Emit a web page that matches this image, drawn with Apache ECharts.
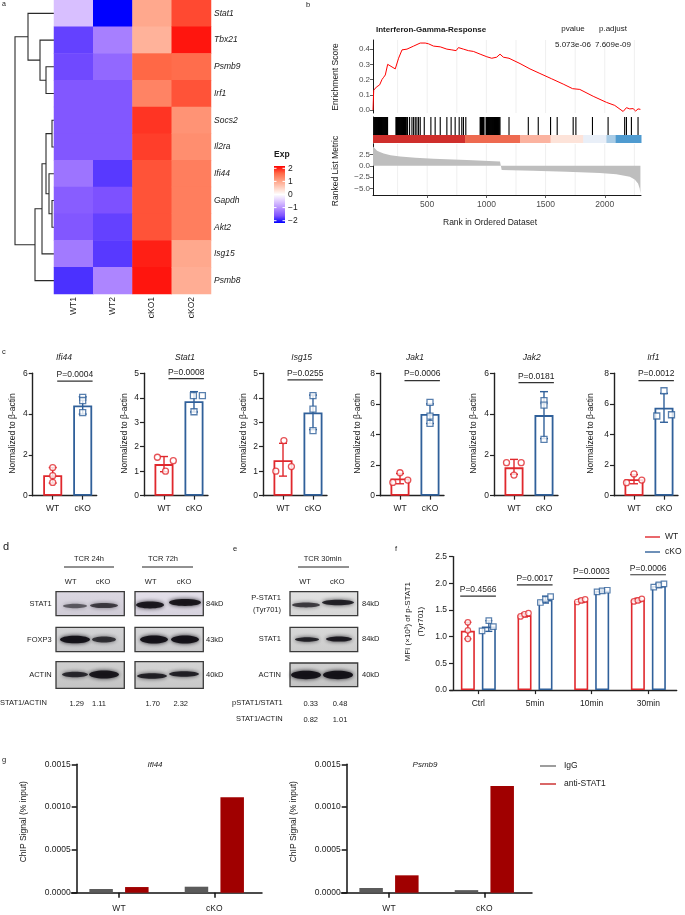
<!DOCTYPE html>
<html><head><meta charset="utf-8">
<script src="https://cdn.jsdelivr.net/npm/echarts@6/dist/echarts.min.js"></script>
<style>html,body{margin:0;padding:0;background:#fff}#c{width:685px;height:915px}</style>
</head><body><div id="c"></div>
<script>
// ================= DATA =================
// Panel a – heatmap (row z-scores)
const heatGenes = ['Stat1','Tbx21','Psmb9','Irf1','Socs2','Il2ra','Ifi44','Gapdh','Akt2','Isg15','Psmb8'];
const heatSamples = ['WT1','WT2','cKO1','cKO2'];
const heatWT1  = [-0.55,-1.6,-1.55,-1.45,-1.45,-1.45,-1.2,-1.4,-1.45,-1.15,-1.7];
const heatWT2  = [-2.0,-1.1,-1.3,-1.45,-1.45,-1.45,-1.65,-1.5,-1.6,-1.65,-1.05];
const heatCKO1 = [0.9,0.8,1.5,1.25,1.75,1.7,1.6,1.6,1.6,1.85,1.9];
const heatCKO2 = [1.65,1.9,1.45,1.6,1.1,1.15,1.3,1.3,1.3,0.9,0.85];
const heatLegendTicks = [2,1,0,-1,-2];
// dendrogram merges (hclust style: negative = leaf row index+1, positive = merge number)
const dendroLeft   = [-3,-2,-1,-5,-8,-7,4,7,8,3];
const dendroRight  = [-4, 1, 2,-6,-9, 5,6,-10,-11,9];
const dendroHeight = [8,14,26,2,2,5,8,12,19,39];

// Panel b – GSEA
const esRank  = [42,48,70,98,118,132,146,166,230,258,287,329,385,441,483,511,553,610,666,708,744,764,806,848,890,947,1003,1045,1087,1115,1143,1191,1284,1368,1452,1551,1649,1728,1789,1902,2014,2084,2155,2183,2211,2239,2261,2281,2301];
const esScore = [0,0.13,0.15,0.165,0.2,0.215,0.23,0.30,0.27,0.34,0.395,0.40,0.42,0.44,0.44,0.435,0.42,0.415,0.40,0.395,0.39,0.41,0.40,0.39,0.385,0.367,0.35,0.34,0.347,0.367,0.347,0.34,0.305,0.27,0.24,0.205,0.17,0.14,0.135,0.09,0.05,0.03,-0.01,0.015,0.007,0.009,-0.007,0.007,0.004];
const hitRanks = [53,57,61,65,69,73,77,81,85,89,93,97,101,105,109,113,117,121,125,129,133,137,141,145,149,153,157,161,165,
  236,240,244,248,252,256,260,264,268,272,276,280,284,288,292,296,300,304,308,312,316,320,323,
  334,351,371,385,399,413,427,441,475,531,567,610,666,702,736,770,792,806,826,
  947,951,955,959,963,967,971,975,980,
  997,1001,1005,1009,1013,1017,1021,1025,1029,1033,1037,1041,1045,1049,1053,1057,1061,1065,1069,1073,1077,1081,1085,1089,1093,1097,1101,1105,1109,1115,
  1191,1354,1438,1542,1598,1733,1756,1896,2028,2168,2183,2225,2281];
const metricRank = [42,55,76,100,132,190,272,400,553,834,1115,1128,1129,1396,1677,1958,2098,2211,2253,2281,2295,2301];
const metricVal  = [4.2,3.8,3.3,3.0,2.7,2.3,2.0,1.75,1.55,1.25,0.95,0.95,-0.95,-1.1,-1.3,-1.6,-1.85,-2.4,-3.0,-3.9,-5.0,-6.0];
const colorBinStart = [42,820,1284,1542,1818,2014,2092];
const colorBinEnd   = [820,1284,1542,1818,2014,2092,2306];
const colorBinColor = ['#cf2f2c','#ee6a50','#fbb3a0','#fde3d9','#e9eff8','#a9cce6','#4f9bd0'];
const gseaGridRanks = [250,500,750,1000,1250,1500,1750,2000,2250];
const gseaXTicks = [500,1000,1500,2000];
const esTicks = [0,0.1,0.2,0.3,0.4];
const metricTicks = [-5,-2.5,0,2.5];

// Panel c – qPCR
const cGenes = ['Ifi44','Stat1','Isg15','Jak1','Jak2','Irf1'];
const cYMax = [6,5,5,8,6,8];
const cYInterval = [2,1,1,2,2,2];
const cWTMean = [1.0,1.29,1.45,1.12,1.39,1.08];
const cKOMean = [4.42,3.86,3.40,5.34,3.95,5.75];
const cWTErr = [[0.62,1.38],[0.98,1.6],[0.8,2.14],[0.78,1.45],[1.05,1.78],[0.78,1.38]];
const cKOErr = [[4.0,4.85],[3.42,4.25],[2.7,4.11],[4.72,6.0],[2.8,5.1],[4.8,6.69]];
const cWTPts = [
  [[0,1.38],[0,0.98],[0,0.65]],
  [[-0.22,1.57],[0.05,1.0],[0.31,1.43]],
  [[0.03,2.25],[-0.24,1.0],[0.28,1.19]],
  [[0,1.50],[-0.24,0.87],[0.26,1.02]],
  [[-0.25,1.62],[0.24,1.62],[0,1.01]],
  [[0,1.42],[-0.25,0.85],[0.26,1.02]]];
const cKOPts = [
  [[1,4.82],[1,4.66],[1,4.07]],
  [[0.98,4.09],[1.28,4.09],[1,3.43]],
  [[1,4.09],[1,3.54],[1,2.66]],
  [[1,6.1],[1,5.2],[1,4.73]],
  [[1,4.66],[1,4.44],[1,2.76]],
  [[1,6.86],[0.76,5.21],[1.25,5.29]]];
const cPLabel = ['P=0.0004','P=0.0008','P=0.0255','P=0.0006','P=0.0181','P=0.0012'];
const cPLevel = [5.62,4.78,4.73,7.52,5.54,7.52];
const cGroups = ['WT','cKO'];

// Panel f – flow MFI
const fCats = ['Ctrl','5min','10min','30min'];
const fWTMean = [1.11,1.40,1.67,1.69];
const fKOMean = [1.19,1.69,1.86,1.95];
const fWTErr = [[0.96,1.27],[1.37,1.44],[1.64,1.71],[1.65,1.72]];
const fKOErr = [[1.10,1.30],[1.63,1.76],[1.83,1.88],[1.92,2.0]];
const fWTPts = [[[0,1.27],[0,1.12],[0,0.96]],[[-0.07,1.38],[0,1.42],[0.07,1.44]],[[-0.07,1.65],[0,1.68],[0.07,1.70]],[[-0.07,1.66],[0,1.68],[0.07,1.71]]];
const fKOPts = [[[-0.12,1.11],[0,1.30],[0.08,1.19]],[[-0.09,1.64],[0,1.70],[0.09,1.75]],[[-0.09,1.84],[0,1.86],[0.09,1.87]],[[-0.09,1.93],[0,1.97],[0.09,1.99]]];
const fPLabel = ['P=0.4566','P=0.0017','P=0.0003','P=0.0006'];
const fPLevel = [1.76,1.97,2.09,2.16];

// Panel g – ChIP
const gCats = ['WT','cKO'];
const gIfi44IgG  = [0.000043,0.00007];
const gIfi44Anti = [0.000066,0.001114];
const gPsmb9IgG  = [0.000055,0.00003];
const gPsmb9Anti = [0.000203,0.001247];

// ================= STYLE / LAYOUT =================
const FONT = '"Liberation Sans", Arial, Helvetica, sans-serif';
const RED = '#e0282d', BLUE = '#30609a', INK = '#1a1a1a';
const heatColors = ['#0000ff','#7d51ff','#b28bff','#dcc5ff','#ffffff','#ffcfbf','#ff9e81','#ff6846','#ff0000'];

const option = {animation:false, backgroundColor:'#fff', textStyle:{fontFamily:FONT},
  grid:[], xAxis:[], yAxis:[], series:[], visualMap:[], graphic:{elements:[]}};
const G = option.graphic.elements;
function addGrid(g){ option.grid.push(Object.assign({show:false, containLabel:false, outerBoundsMode:'none'}, g)); return option.grid.length-1; }
function addX(a){ option.xAxis.push(a); return option.xAxis.length-1; }
function addY(a){ option.yAxis.push(a); return option.yAxis.length-1; }
function txt(x,y,text,o){ o=o||{}; const al=o.align||'center', va=o.va||'middle';
  return {type:'text', x:x, y:y, rotation:o.rot||0, silent:true, z:50,
    style:{text:text, fill:o.color||INK, fontSize:o.size||8.5, fontFamily:FONT, fontStyle:o.italic?'italic':'normal',
      fontWeight:o.bold?'bold':'normal', align:al, verticalAlign:va, textAlign:al, textVerticalAlign:va}}; }
function hline(x1,y1,x2,y2,color,w){ return {type:'line', silent:true, z:50, shape:{x1:x1,y1:y1,x2:x2,y2:y2}, style:{stroke:color, lineWidth:w}}; }
const hidden = {show:false};

// ================= PANEL a =================
{
  const gd = addGrid({left:14, top:0, width:40, height:294});
  const xi = addX({gridIndex:gd, type:'value', min:0, max:40, inverse:true, show:false});
  const yi = addY({gridIndex:gd, type:'value', min:-0.5, max:10.5, inverse:true, show:false});
  const nodePos=[], nodeH=[];
  const pos = id => id<0 ? -id-1 : nodePos[id-1];
  const hgt = id => id<0 ? 0 : nodeH[id-1];
  const segs = [];
  for (let k=0;k<dendroHeight.length;k++){
    const a=dendroLeft[k], b=dendroRight[k], h=dendroHeight[k];
    const ya=pos(a), yb=pos(b);
    segs.push({coords:[[hgt(a),ya],[h,ya],[h,yb],[hgt(b),yb]]});
    nodePos.push((ya+yb)/2); nodeH.push(h);
  }
  option.series.push({type:'lines', coordinateSystem:'cartesian2d', xAxisIndex:xi, yAxisIndex:yi, polyline:true, silent:true,
    lineStyle:{color:'#2a2a2a', width:1.1, opacity:1}, data:segs});

  const gh = addGrid({left:54, top:0, width:157, height:294});
  const hx = addX({gridIndex:gh, type:'category', data:heatSamples, axisLine:{show:false}, axisTick:{show:false}, splitLine:{show:false},
    axisLabel:{rotate:90, margin:3, fontSize:8.5, color:INK, fontFamily:FONT}});
  const hy = addY({gridIndex:gh, type:'category', data:heatGenes, inverse:true, position:'right', axisLine:{show:false}, axisTick:{show:false}, splitLine:{show:false},
    axisLabel:{fontStyle:'italic', fontSize:8.5, margin:3, color:INK, fontFamily:FONT}});
  const cols = [heatWT1, heatWT2, heatCKO1, heatCKO2];
  const hd = [];
  cols.forEach((col,c)=>col.forEach((v,r)=>hd.push([c,r,v])));
  option.series.push({type:'heatmap', xAxisIndex:hx, yAxisIndex:hy, data:hd, silent:true, itemStyle:{borderWidth:0}});
  option.visualMap.push({type:'continuous', show:false, min:-2, max:2, dimension:2, seriesIndex:option.series.length-1, inRange:{color:heatColors}});

  // color legend
  const lx=274, ly=166, lw=11, lh=57;
  const stops = heatColors.slice().reverse().map((c,i)=>({offset:i/(heatColors.length-1), color:c}));
  G.push(txt(274,155,'Exp',{bold:true, size:8.5, align:'left'}));
  G.push({type:'rect', silent:true, z:40, shape:{x:lx,y:ly,width:lw,height:lh},
    style:{fill:{type:'linear', x:0,y:0,x2:0,y2:1, colorStops:stops}}});
  heatLegendTicks.forEach(v=>{
    const yy = ly+2.3 + (2-v)/4*(lh-4.6);
    G.push(hline(lx,yy,lx+2.5,yy,'#fff',1)); G.push(hline(lx+lw-2.5,yy,lx+lw,yy,'#fff',1));
    G.push(txt(lx+lw+3, yy, v<0?('\u2212'+Math.abs(v)):String(v), {align:'left', size:8.5}));
  });
}

// ================= PANEL b =================
{
  const L=373, W=268, xmin=42, xmax=2306;
  const gT = addGrid({left:L, top:40, width:W, height:73});
  const gR = addGrid({left:L, top:117, width:W, height:18});
  const gC = addGrid({left:L, top:135, width:W, height:8});
  const gB = addGrid({left:L, top:144, width:W, height:51});
  const axLine = {show:true, onZero:false, lineStyle:{color:'#000', width:0.9}};
  const lab = {fontSize:8, color:'#4d4d4d', fontFamily:FONT, margin:3};
  const xT = addX({gridIndex:gT, type:'value', min:xmin, max:xmax, show:false});
  const yT = addY({gridIndex:gT, type:'value', min:-0.02, max:0.46, axisLine:axLine, splitLine:hidden,
    axisTick:{show:true, length:3, customValues:esTicks, lineStyle:{color:'#333', width:0.8}},
    axisLabel:Object.assign({customValues:esTicks, formatter:v=>v.toFixed(1)}, lab)});
  const xR = addX({gridIndex:gR, type:'value', min:xmin, max:xmax, show:false});
  const yR = addY({gridIndex:gR, type:'value', min:0, max:1, axisLine:axLine, axisTick:hidden, axisLabel:hidden, splitLine:hidden});
  const xC = addX({gridIndex:gC, type:'value', min:xmin, max:xmax, show:false});
  const yC = addY({gridIndex:gC, type:'value', min:0, max:1, axisLine:axLine, axisTick:hidden, axisLabel:hidden, splitLine:hidden});
  const xB = addX({gridIndex:gB, type:'value', min:xmin, max:xmax, axisLine:axLine, splitLine:hidden,
    axisTick:{show:true, length:3, customValues:gseaXTicks, lineStyle:{color:'#333', width:0.8}},
    axisLabel:Object.assign({customValues:gseaXTicks, formatter:v=>String(Math.round(v))}, lab, {margin:5, fontSize:8.5})});
  const yB = addY({gridIndex:gB, type:'value', min:-6.4, max:4.76, axisLine:axLine, splitLine:hidden,
    axisTick:{show:true, length:3, customValues:metricTicks, lineStyle:{color:'#333', width:0.8}},
    axisLabel:Object.assign({customValues:metricTicks, formatter:v=>v<0?('\u2212'+Math.abs(v).toFixed(1)):v.toFixed(1)}, lab)});

  const gridLines = (xi, yi, y0, y1) => ({type:'custom', xAxisIndex:xi, yAxisIndex:yi, silent:true, z:0, clip:false,
    data:gseaGridRanks.map(v=>[v]),
    renderItem:(p,api)=>{const a=api.coord([api.value(0),y0]), b=api.coord([api.value(0),y1]);
      return {type:'line', shape:{x1:a[0],y1:a[1],x2:b[0],y2:b[1]}, style:{stroke:'#ebebeb', lineWidth:0.8}};}});
  option.series.push(gridLines(xT,yT,-0.02,0.46));
  option.series.push(gridLines(xB,yB,-6.4,4.76));
  option.series.push({type:'line', xAxisIndex:xT, yAxisIndex:yT, data:esRank.map((r,i)=>[r,esScore[i]]), showSymbol:false, symbol:'none',
    lineStyle:{color:'#ff0000', width:1}, silent:true, z:3});
  option.series.push({type:'custom', xAxisIndex:xR, yAxisIndex:yR, silent:true, z:3, data:hitRanks.map(v=>[v]),
    renderItem:(p,api)=>{const a=api.coord([api.value(0),0]), b=api.coord([api.value(0),1]);
      return {type:'line', shape:{x1:a[0],y1:a[1],x2:b[0],y2:b[1]}, style:{stroke:'#000', lineWidth:1.1}};}});
  option.series.push({type:'custom', xAxisIndex:xC, yAxisIndex:yC, silent:true, z:3,
    data:colorBinStart.map((s,i)=>[s,colorBinEnd[i],i]),
    renderItem:(p,api)=>{const a=api.coord([api.value(0),1]), b=api.coord([api.value(1),0]);
      return {type:'rect', shape:{x:a[0],y:a[1],width:b[0]-a[0]+0.5,height:b[1]-a[1]}, style:{fill:colorBinColor[api.value(2)]}};}});
  option.series.push({type:'line', xAxisIndex:xB, yAxisIndex:yB, data:metricRank.map((r,i)=>[r,metricVal[i]]), showSymbol:false, symbol:'none',
    lineStyle:{width:0, color:'#bebebe'}, areaStyle:{color:'#bebebe', opacity:1}, silent:true, z:3});

  G.push(txt(306,5,'b',{size:7.5, align:'left'}));
  G.push(txt(376,30,'Interferon-Gamma-Response',{bold:true, size:8, align:'left'}));
  G.push(txt(573,28.5,'pvalue',{size:8})); G.push(txt(613,28.5,'p.adjust',{size:8}));
  G.push(txt(573,45,'5.073e-06',{size:8})); G.push(txt(613,45,'7.609e-09',{size:8}));
  G.push(txt(336,77,'Enrichment Score',{rot:Math.PI/2, size:8.5, color:'#222'}));
  G.push(txt(336,171,'Ranked List Metric',{rot:Math.PI/2, size:8.5, color:'#222'}));
  G.push(txt(490,223,'Rank in Ordered Dataset',{size:8.5, color:'#222'}));
}

// ================= PANEL c =================
const axStyle = {show:true, onZero:false, lineStyle:{color:'#222', width:1.4}};
function errSeries(xi, yi, items, capW){
  return {type:'custom', xAxisIndex:xi, yAxisIndex:yi, silent:true, z:4, clip:false, data:items,
    renderItem:(p,api)=>{const x=api.value(0), a=api.coord([x,api.value(1)]), b=api.coord([x,api.value(2)]);
      const col = api.value(3)===0?RED:BLUE;
      return {type:'group', children:[
        {type:'line', shape:{x1:a[0],y1:a[1],x2:b[0],y2:b[1]}, style:{stroke:col, lineWidth:1.4}},
        {type:'line', shape:{x1:a[0]-capW,y1:a[1],x2:a[0]+capW,y2:a[1]}, style:{stroke:col, lineWidth:1.4}},
        {type:'line', shape:{x1:b[0]-capW,y1:b[1],x2:b[0]+capW,y2:b[1]}, style:{stroke:col, lineWidth:1.4}}]};}};
}
function bracketSeries(xi, yi, items, labels){
  return {type:'custom', xAxisIndex:xi, yAxisIndex:yi, silent:true, z:4, clip:false, data:items,
    renderItem:(p,api)=>{const a=api.coord([api.value(0),api.value(2)]), b=api.coord([api.value(1),api.value(2)]);
      const t = labels[p.dataIndex];
      return {type:'group', children:[
        {type:'line', shape:{x1:a[0],y1:a[1],x2:b[0],y2:b[1]}, style:{stroke:'#333', lineWidth:1.2}},
        {type:'text', x:(a[0]+b[0])/2, y:a[1]-2, style:{text:t, fill:INK, fontSize:8.5, fontFamily:FONT,
          align:'center', verticalAlign:'bottom', textAlign:'center', textVerticalAlign:'bottom'}}]};}};
}
{
  const cAxisX = [32.7,144,263,380,494,614];
  const cTitleX = [64,185,301.7,415,531.7,653.3];
  const cYTitleX = [12.7,125,243.3,357.3,474,590.7];
  const top=373.3, h=122.4, w=64;
  cGenes.forEach((gene,i)=>{
    const gi = addGrid({left:cAxisX[i], top:top, width:w, height:h});
    const xi = addX({gridIndex:gi, type:'value', min:-0.667, max:1.467, axisLine:axStyle, splitLine:hidden,
      axisTick:{show:true, length:4, customValues:[0,1], lineStyle:{color:'#222', width:1.2}},
      axisLabel:{customValues:[0,1], formatter:v=>cGroups[Math.round(v)], fontSize:8.5, color:INK, margin:8, fontFamily:FONT}});
    const yi = addY({gridIndex:gi, type:'value', min:0, max:cYMax[i], interval:cYInterval[i], axisLine:axStyle, splitLine:hidden,
      axisTick:{show:true, length:4, lineStyle:{color:'#222', width:1.2}},
      axisLabel:{fontSize:8.5, color:INK, margin:5, fontFamily:FONT}});
    option.series.push({type:'bar', xAxisIndex:xi, yAxisIndex:yi, barWidth:19, silent:true, z:2, data:[
      {value:[0,cWTMean[i]], itemStyle:{color:'rgba(255,255,255,0)', borderColor:RED, borderWidth:1.8}},
      {value:[1,cKOMean[i]], itemStyle:{color:'rgba(255,255,255,0)', borderColor:BLUE, borderWidth:1.8}}]});
    option.series.push(errSeries(xi, yi, [[0,cWTErr[i][0],cWTErr[i][1],0],[1,cKOErr[i][0],cKOErr[i][1],1]], 4));
    option.series.push({type:'scatter', xAxisIndex:xi, yAxisIndex:yi, data:cWTPts[i], symbol:'circle', symbolSize:6, silent:true, z:5,
      itemStyle:{color:'#fff', borderColor:RED, borderWidth:1.3}});
    option.series.push({type:'scatter', xAxisIndex:xi, yAxisIndex:yi, data:cKOPts[i], symbol:'rect', symbolSize:6, silent:true, z:5,
      itemStyle:{color:'#fff', borderColor:BLUE, borderWidth:1.3}});
    option.series.push(bracketSeries(xi, yi, [[0.15,1.33,cPLevel[i]]], [cPLabel[i]]));
    G.push(txt(cTitleX[i],358,gene,{italic:true, size:8.5}));
    G.push(txt(cYTitleX[i],433.5,'Normalized to \u03b2-actin',{rot:Math.PI/2, size:8.5}));
  });
  G.push(txt(2,351.5,'c',{size:7.5, align:'left'}));
}

// ================= PANELS d / e (western blots) =================
function blot(x0,y0,x1,y1,bg,bands){
  G.push({type:'rect', silent:true, z:20, shape:{x:x0,y:y0,width:x1-x0,height:y1-y0},
    style:{fill:{type:'linear',x:0,y:0,x2:0,y2:1,colorStops:[{offset:0,color:bg[0]},{offset:1,color:bg[1]}]}, stroke:'#3a3a3a', lineWidth:1.3}});
  bands.forEach(b=>G.push({type:'ellipse', silent:true, z:21, shape:{cx:b[0],cy:b[1],rx:b[2],ry:b[3]},
    style:{fill:'rgba(18,16,22,'+b[4]+')', shadowBlur:4, shadowColor:'rgba(18,16,22,'+b[4]+')'}}));
}
{
  const s=7.5;
  G.push(txt(3,547,'d',{size:11, align:'left'}));
  G.push(txt(89,559,'TCR 24h',{size:s})); G.push(hline(64,567,114,567,'#222',1));
  G.push(txt(163,559,'TCR 72h',{size:s})); G.push(hline(142,567,193,567,'#222',1));
  [[70.7,'WT'],[103,'cKO'],[150.7,'WT'],[184,'cKO']].forEach(a=>G.push(txt(a[0],581.7,a[1],{size:s})));
  [['STAT1',603.5],['FOXP3',639.5],['ACTIN',675]].forEach(a=>G.push(txt(51.7,a[1],a[0],{size:s, align:'right'})));
  [['84kD',603.5],['43kD',639.5],['40kD',675]].forEach(a=>G.push(txt(206,a[1],a[0],{size:s, align:'left'})));
  blot(56,591.7,124.3,615.7,['#dcd8e2','#cfcbd6'],[[75,606,12,2.2,0.55],[104,605.5,14,2.6,0.7]]);
  blot(135,591.7,203.3,615.7,['#e4e0ea','#d6d2de'],[[150,605,14,3.4,0.9],[185,602.5,16,3.4,0.92]]);
  blot(56,627.3,124.3,651.7,['#d4d4d6','#c8c8ca'],[[75,639.5,15,3.8,0.95],[104,639.5,12,3,0.75]]);
  blot(135,627.3,203.3,651.7,['#d6d6d8','#cacacc'],[[154,639.5,14,4,0.95],[185,639.5,14,4,0.95]]);
  blot(56,661.7,124.3,688.3,['#d0d0d0','#c4c4c4'],[[75,674.5,13,2.8,0.8],[104,674.5,15,4,0.92]]);
  blot(135,661.7,203.3,688.3,['#d4d4d4','#c8c8c8'],[[152,676,15,2.8,0.85],[184,674,15,2.8,0.85]]);
  G.push(txt(0,703,'STAT1/ACTIN',{size:s, align:'left'}));
  [[76.7,'1.29'],[99,'1.11'],[152.7,'1.70'],[180.7,'2.32']].forEach(a=>G.push(txt(a[0],703.5,a[1],{size:s})));

  G.push(txt(233,549,'e',{size:7.5, align:'left'}));
  G.push(txt(322.7,559,'TCR 30min',{size:s})); G.push(hline(298,567,349,567,'#222',1));
  G.push(txt(305,581.7,'WT',{size:s})); G.push(txt(337.3,581.7,'cKO',{size:s}));
  G.push(txt(281,598,'P-STAT1',{size:s, align:'right'})); G.push(txt(281,609.5,'(Tyr701)',{size:s, align:'right'}));
  G.push(txt(281,639,'STAT1',{size:s, align:'right'})); G.push(txt(281,675,'ACTIN',{size:s, align:'right'}));
  [['84kD',603.5],['84kD',639],['40kD',675]].forEach(a=>G.push(txt(362,a[1],a[0],{size:s, align:'left'})));
  blot(290,591.7,357.7,615.7,['#e2e2e2','#d6d6d6'],[[306,605,14,2.4,0.7],[338,602.5,16,2.8,0.85]]);
  blot(290,627.3,357.7,651.7,['#d8d8d8','#cccccc'],[[307,639.5,12,2.2,0.85],[339,639,13,2.6,0.9]]);
  blot(290,663,357.7,686.7,['#cfcfcf','#c4c4c4'],[[306,675,15,4.2,0.95],[338,675,15,4.2,0.95]]);
  G.push(txt(282.7,703,'pSTAT1/STAT1',{size:s, align:'right'}));
  G.push(txt(310.7,703.5,'0.33',{size:s})); G.push(txt(340,703.5,'0.48',{size:s}));
  G.push(txt(282.7,719,'STAT1/ACTIN',{size:s, align:'right'}));
  G.push(txt(310.7,719.5,'0.82',{size:s})); G.push(txt(340,719.5,'1.01',{size:s}));
}

// ================= PANEL f =================
{
  const gi = addGrid({left:450, top:556.6, width:226.7, height:133.5});
  const cats = fCats.map((c,i)=>i);
  const xi = addX({gridIndex:gi, type:'value', min:-0.5, max:3.5, axisLine:axStyle, splitLine:hidden,
    axisTick:{show:true, length:4, customValues:cats, lineStyle:{color:'#222', width:1.2}},
    axisLabel:{customValues:cats, formatter:v=>fCats[Math.round(v)], fontSize:8.5, color:INK, margin:9, fontFamily:FONT}});
  const yi = addY({gridIndex:gi, type:'value', min:0, max:2.5, interval:0.5, offset:-3, axisLine:axStyle, splitLine:hidden,
    axisTick:{show:true, length:4, lineStyle:{color:'#222', width:1.2}},
    axisLabel:{fontSize:8.5, color:INK, margin:6, formatter:v=>v.toFixed(1), fontFamily:FONT}});
  const off = 0.185;
  const bars=[], errs=[], pw=[], pk=[];
  fCats.forEach((c,i)=>{
    bars.push({value:[i-off,fWTMean[i]], itemStyle:{color:'rgba(255,255,255,0)', borderColor:RED, borderWidth:1.6}});
    bars.push({value:[i+off,fKOMean[i]], itemStyle:{color:'rgba(255,255,255,0)', borderColor:BLUE, borderWidth:1.6}});
    errs.push([i-off,fWTErr[i][0],fWTErr[i][1],0]); errs.push([i+off,fKOErr[i][0],fKOErr[i][1],1]);
    fWTPts[i].forEach(p=>pw.push([i-off+p[0],p[1]])); fKOPts[i].forEach(p=>pk.push([i+off+p[0],p[1]]));
  });
  option.series.push({type:'bar', xAxisIndex:xi, yAxisIndex:yi, barWidth:14, silent:true, z:2, data:bars});
  option.series.push(errSeries(xi, yi, errs, 3.5));
  option.series.push({type:'scatter', xAxisIndex:xi, yAxisIndex:yi, data:pw, symbol:'circle', symbolSize:5.5, silent:true, z:5,
    itemStyle:{color:'#fff', borderColor:RED, borderWidth:1.2}});
  option.series.push({type:'scatter', xAxisIndex:xi, yAxisIndex:yi, data:pk, symbol:'rect', symbolSize:5.5, silent:true, z:5,
    itemStyle:{color:'#fff', borderColor:BLUE, borderWidth:1.2}});
  option.series.push(bracketSeries(xi, yi, fCats.map((c,i)=>[i-0.32,i+0.31,fPLevel[i]]), fPLabel));
  G.push(txt(395,549,'f',{size:7.5, align:'left'}));
  G.push(txt(407.5,621.7,'MFI (\u00d710\u00b3) of p-STAT1',{rot:Math.PI/2, size:8}));
  G.push(txt(420.5,621.7,'(Tyr701)',{rot:Math.PI/2, size:8}));
  G.push(hline(645,537,660,537,RED,1.4)); G.push(txt(665,537,'WT',{size:8.5, align:'left'}));
  G.push(hline(645,552,660,552,BLUE,1.4)); G.push(txt(665,552,'cKO',{size:8.5, align:'left'}));
}

// ================= PANEL g =================
{
  const panels = [[71.3,'Ifi44',gIfi44IgG,gIfi44Anti,155,23.3],[341.3,'Psmb9',gPsmb9IgG,gPsmb9Anti,425,293.3]];
  panels.forEach(pp=>{
    const gi = addGrid({left:pp[0], top:764.3, width:190.7, height:128.4});
    const xi = addX({gridIndex:gi, type:'category', data:gCats, axisLine:{show:true, lineStyle:{color:'#111', width:1.5}},
      axisTick:{show:true, alignWithLabel:true, length:5, lineStyle:{color:'#111', width:1.5}}, splitLine:hidden,
      axisLabel:{fontSize:8.5, color:INK, margin:11, fontFamily:FONT}});
    const yi = addY({gridIndex:gi, type:'value', min:0, max:0.0015, interval:0.0005, offset:-5.4,
      axisLine:{show:true, onZero:false, lineStyle:{color:'#111', width:1.5}}, splitLine:hidden,
      axisTick:{show:true, length:5, lineStyle:{color:'#111', width:1.5}},
      axisLabel:{fontSize:8.5, color:INK, margin:6, formatter:v=>v.toFixed(4), fontFamily:FONT}});
    option.series.push({type:'bar', name:'IgG', xAxisIndex:xi, yAxisIndex:yi, data:pp[2], barWidth:23.5, barGap:'52%', silent:true,
      itemStyle:{color:'#5b5b5b'}});
    option.series.push({type:'bar', name:'anti-STAT1', xAxisIndex:xi, yAxisIndex:yi, data:pp[3], barWidth:23.5, barGap:'52%', silent:true,
      itemStyle:{color:'#a00000'}});
    G.push(txt(pp[4],765,pp[1],{italic:true, size:8}));
    G.push(txt(pp[5],821.7,'ChIP Signal (% input)',{rot:Math.PI/2, size:8.5}));
  });
  G.push(txt(2,760,'g',{size:7.5, align:'left'}));
  G.push(hline(540,766,556,766,'#5b5b5b',1.2)); G.push(txt(564,766,'IgG',{size:8.5, align:'left'}));
  G.push(hline(540,784,556,784,'#c00000',1.2)); G.push(txt(564,784,'anti-STAT1',{size:8.5, align:'left'}));
}
G.push(txt(2,4,'a',{size:7, align:'left'}));

const chart = echarts.init(document.getElementById('c'), null, {renderer:'canvas', width:685, height:915});
chart.setOption(option);
</script></body></html>
